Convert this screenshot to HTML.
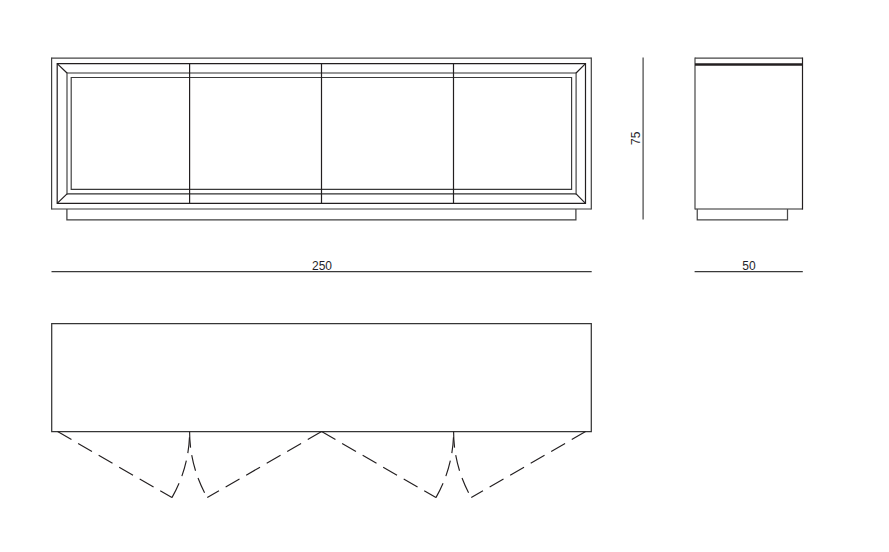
<!DOCTYPE html>
<html><head><meta charset="utf-8"><style>
html,body{margin:0;padding:0;background:#fff;width:889px;height:552px;overflow:hidden}
svg{display:block}
.k{stroke:#231f20;stroke-width:1.2;fill:none}
.g{stroke:#231f20;stroke-width:1.2;fill:none}
.d{stroke:#231f20;stroke-width:1.15;fill:none;stroke-dasharray:16 7.7}
text{font-family:"Liberation Sans",sans-serif;font-size:12px;fill:#1f1f2a}
</style></head><body>
<svg width="889" height="552" viewBox="0 0 889 552">
<path d="M51.6,58.1 H591.3" style="stroke:#444;stroke-width:1.2"/><path d="M51.6,209 H591.3" style="stroke:#383838;stroke-width:1.2"/>
<path d="M51.6,57.5 V209.6 M591.3,57.5 V209.6" style="stroke:#404040;stroke-width:1.2"/>
<path class="k" d="M57.2,63.6 H585.5 V203.4 H57.2 Z"/>
<path d="M67,73 H576.1 M67,193.9 H576.1" style="stroke:#303030;stroke-width:1.2"/>
<path d="M67,72.4 V194.5 M576.1,72.4 V194.5" style="stroke:#454545;stroke-width:1.2"/>
<path class="k" d="M71.2,77.5 H571.6 V189.4 H71.2 Z" style="stroke:#3a3a3a;stroke-width:1.15"/>
<path class="k" d="M57.2,63.6 L67,73 M585.5,63.6 L576.1,73 M57.2,203.4 L67,193.9 M585.5,203.4 L576.1,193.9"/>
<path class="k" d="M189.6,63.6 V203.4 M321.5,63.6 V203.4 M453.5,63.6 V203.4"/>
<path class="g" d="M66.9,209 V219.8 H575.9 V209" style="stroke:#404040;stroke-width:1.25"/>
<path d="M643.1,57.6 V219.6" style="stroke:#505050;stroke-width:1.3;fill:none"/>
<text x="0" y="0" transform="translate(640.2,145) rotate(-90)">75</text>
<path d="M695,58.1 H802.5" style="stroke:#444;stroke-width:1.2"/><path d="M695,209 H802.5" style="stroke:#2a2a2a;stroke-width:1.2"/>
<path d="M695,57.5 V209.6" style="stroke:#454545;stroke-width:1.2"/>
<path d="M802.5,57.5 V209.6" style="stroke:#231f20;stroke-width:1.2"/>
<path d="M695,64.5 H802.5" style="stroke:#231f20;stroke-width:2.6"/>
<path class="g" d="M697.25,209 V219.8 H787.5 V209" style="stroke:#484848;stroke-width:1.25"/>
<path d="M51.5,271.7 H591.7" style="stroke:#3a3a3a;stroke-width:1.3"/>
<text x="312" y="270">250</text>
<path d="M694.6,271.7 H802.8" style="stroke:#3a3a3a;stroke-width:1.3"/>
<text x="742.3" y="270">50</text>
<path d="M51.7,323.7 H591.3 V431.6 H51.7 Z" style="stroke:#363636;stroke-width:1.25;fill:none"/>
<path class="d" d="M57.6,431.6 L171.92,497.60"/><path class="d" d="M171.92,497.60 A132,132 0 0 0 189.6,431.6"/><path class="d" d="M321.6,431.6 L207.28,497.60"/><path class="d" d="M189.60000000000002,431.6 A132,132 0 0 0 207.28,497.60"/><path class="d" d="M321.6,431.6 L435.92,497.60"/><path class="d" d="M435.92,497.60 A132,132 0 0 0 453.6,431.6"/><path class="d" d="M585.6,431.6 L471.28,497.60"/><path class="d" d="M453.6,431.6 A132,132 0 0 0 471.28,497.60"/>
</svg>
</body></html>
